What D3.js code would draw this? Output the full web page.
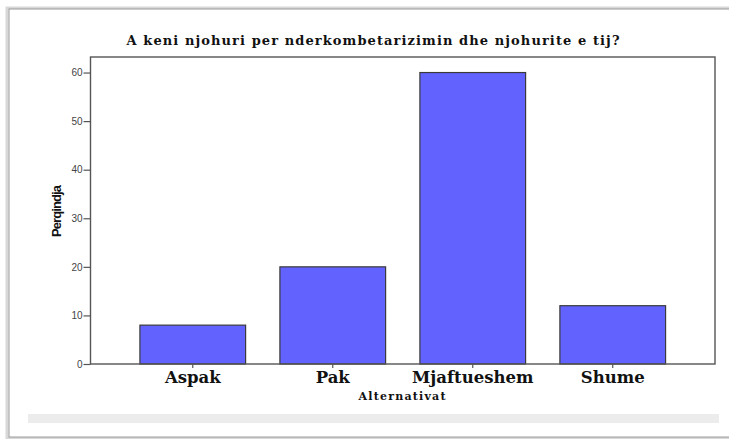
<!DOCTYPE html>
<html>
<head>
<meta charset="utf-8">
<script src="https://cdn.jsdelivr.net/npm/d3@7"></script>
<style>
  body { margin: 0; background: #fff; }
  svg { display: block; }
</style>
</head>
<body>
<svg id="chart"></svg>
<script>
// Chart data
const categories = ["Aspak", "Pak", "Mjaftueshem", "Shume"];
const percentages = [8, 20, 60, 12];
const yTicks = [0, 10, 20, 30, 40, 50, 60];
const titleText = "A keni njohuri per nderkombetarizimin dhe njohurite e tij?";
const xTitle = "Alternativat";
const yTitle = "Perqindja";

const width = 729, height = 439;
const svg = d3.select("#chart").attr("width", width).attr("height", height);

// page frame with soft shadow (looks like a pasted document screenshot)
svg.append("rect").attr("x", 0).attr("y", 0).attr("width", width).attr("height", height).attr("fill", "#fff");
svg.append("rect").attr("x", 7).attr("y", 8).attr("width", 730).attr("height", 430)
    .attr("fill", "none").attr("stroke", "#d8d8d8").attr("stroke-width", 3);
svg.append("rect").attr("x", 9).attr("y", 9).attr("width", 730).attr("height", 428)
    .attr("fill", "#fff").attr("stroke", "#9a9a9a").attr("stroke-width", 1);
svg.append("rect").attr("x", 28).attr("y", 414).attr("width", 691).attr("height", 9).attr("fill", "#ececec");

// plot area
const plot = { left: 90.5, right: 715, top: 57, bottom: 364 };

const x = d3.scaleBand()
    .domain(categories)
    .range([plot.left, plot.right])
    .paddingInner(0.245)
    .paddingOuter(0.353);

const y = d3.scaleLinear()
    .domain([0, 63.2])
    .range([plot.bottom, plot.top]);

// bars
svg.selectAll("rect.bar")
    .data(categories)
    .enter().append("rect")
    .attr("class", "bar")
    .attr("x", d => x(d))
    .attr("width", x.bandwidth())
    .attr("y", (d, i) => y(percentages[i]))
    .attr("height", (d, i) => y(0) - y(percentages[i]))
    .attr("fill", "#6262ff")
    .attr("stroke", "#3a3a3a")
    .attr("stroke-width", 1.2);

// frame
svg.append("rect")
    .attr("x", plot.left).attr("y", plot.top)
    .attr("width", plot.right - plot.left).attr("height", plot.bottom - plot.top)
    .attr("fill", "none").attr("stroke", "#555").attr("stroke-width", 1.4);

// y axis
const yAxis = svg.append("g")
    .attr("transform", `translate(${plot.left},0)`)
    .call(d3.axisLeft(y).tickValues(yTicks).tickSize(7).tickPadding(1));
yAxis.select(".domain").remove();
yAxis.selectAll("line").attr("stroke", "#555").attr("stroke-width", 1.2);
yAxis.selectAll("text")
    .attr("fill", "#444")
    .style("font-family", "'Liberation Sans', Arial, sans-serif")
    .style("font-size", "10px");

// x axis
const xAxis = svg.append("g")
    .attr("transform", `translate(0,${plot.bottom})`)
    .call(d3.axisBottom(x).tickSize(4).tickPadding(5));
xAxis.select(".domain").remove();
xAxis.selectAll("line").attr("stroke", "#555").attr("stroke-width", 1.2);
xAxis.selectAll("text")
    .attr("fill", "#111")
    .attr("dy", "0")
    .attr("y", 19)
    .style("font-family", "'DejaVu Serif', serif")
    .style("font-weight", "bold")
    .style("font-size", "16.5px");

// titles
svg.append("text")
    .attr("x", 373).attr("y", 45)
    .attr("text-anchor", "middle")
    .attr("textLength", 493)
    .attr("fill", "#111")
    .style("font-family", "'DejaVu Serif', serif")
    .style("font-weight", "bold")
    .style("font-size", "13px")
    .text(titleText);

svg.append("text")
    .attr("x", 402).attr("y", 400)
    .attr("text-anchor", "middle")
    .attr("textLength", 87)
    .attr("fill", "#111")
    .style("font-family", "'DejaVu Serif', serif")
    .style("font-weight", "bold")
    .style("font-size", "11px")
    .text(xTitle);

svg.append("text")
    .attr("transform", "translate(61,211) rotate(-90)")
    .attr("text-anchor", "middle")
    .attr("textLength", 52)
    .attr("fill", "#111")
    .style("font-family", "'Liberation Sans Narrow', 'Liberation Sans', sans-serif")
    .style("font-weight", "bold")
    .style("font-size", "13px")
    .text(yTitle);
</script>
</body>
</html>
